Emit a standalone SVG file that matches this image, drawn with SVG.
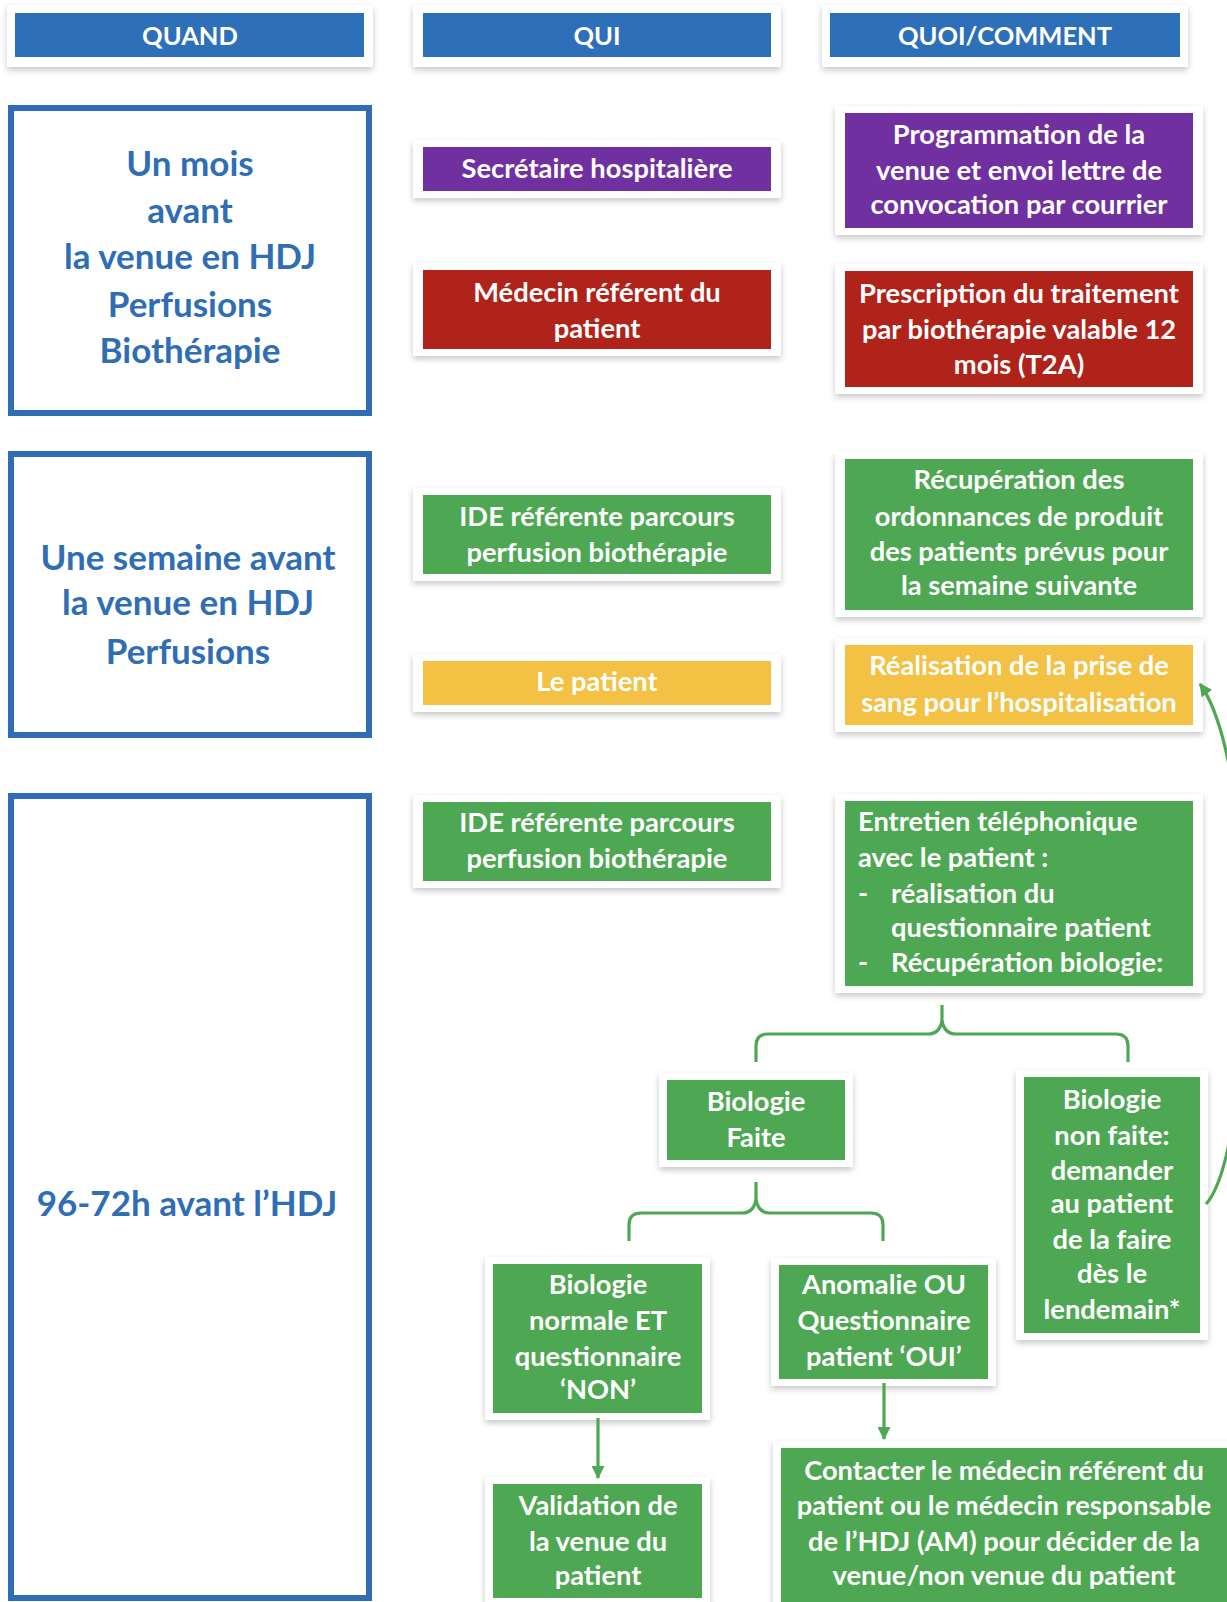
<svg xmlns="http://www.w3.org/2000/svg" width="1227" height="1602" viewBox="0 0 1227 1602">
<defs>
<filter id="sh" x="-10%" y="-20%" width="120%" height="150%">
<feDropShadow dx="0" dy="3" stdDeviation="3" flood-color="#000" flood-opacity="0.22"/>
</filter>
<marker id="ah" viewBox="0 0 12 12" refX="11" refY="6" markerWidth="13" markerHeight="13" markerUnits="userSpaceOnUse" orient="auto">
<path d="M0,0 L12,6 L0,12 Z" fill="#4ea752"/>
</marker>
</defs>
<style>
text{font-family:Lato,"Liberation Sans",sans-serif;font-weight:bold;dominant-baseline:central;text-anchor:middle;fill:#ffffff;transform:translateY(-1.5px)}
.card{fill:#ffffff;filter:url(#sh)}
.hd{fill:#2e6fba}
.h{font-size:25.5px}
.t{font-size:27.3px}
.lt{font-size:35px;fill:#2f6eb5}
.lb{fill:none;stroke:#2f6eb5;stroke-width:6}
.pu{fill:#7030a0}
.rd{fill:#b0231a}
.gr{fill:#4ea752}
.ye{fill:#f3c143}
.cn{fill:none;stroke:#4ea752;stroke-width:3.2}
.lf{text-anchor:start}
</style>
<rect width="1227" height="1602" fill="#ffffff"/>

<g id="head-quand"><rect class="card" x="7" y="5" width="366" height="62"/><rect class="hd" x="15" y="13" width="349" height="44"/><text class="h" x="190" y="36">QUAND</text></g>
<g id="head-qui"><rect class="card" x="413" y="5" width="368" height="62"/><rect class="hd" x="423" y="13" width="348" height="44"/><text class="h" x="597" y="36">QUI</text></g>
<g id="head-quoi"><rect class="card" x="822" y="5" width="366" height="62"/><rect class="hd" x="830" y="13" width="350" height="44"/><text class="h" x="1005" y="36">QUOI/COMMENT</text></g>

<g id="when-1"><rect class="lb" x="11" y="108" width="358" height="305"/>
<text class="lt" x="190" y="163">Un mois</text><text class="lt" x="190" y="210">avant</text><text class="lt" x="190" y="256">la venue en HDJ</text><text class="lt" x="190" y="304">Perfusions</text><text class="lt" x="190" y="350">Biothérapie</text></g>
<g id="when-2"><rect class="lb" x="11" y="454" width="358" height="281"/>
<text class="lt" x="188" y="557">Une semaine avant</text><text class="lt" x="188" y="602">la venue en HDJ</text><text class="lt" x="188" y="651">Perfusions</text></g>
<g id="when-3"><rect class="lb" x="11" y="796" width="358" height="802"/>
<text class="lt" x="187" y="1203">96-72h avant l’HDJ</text></g>

<g id="who-secretaire"><rect class="card" x="413" y="140" width="368" height="58"/><rect class="pu" x="423" y="147" width="348" height="44"/><text class="t" x="597" y="169">Secrétaire hospitalière</text></g>
<g id="who-medecin"><rect class="card" x="413" y="263" width="368" height="93"/><rect class="rd" x="423" y="270" width="348" height="79"/><text class="t" x="597" y="293">Médecin référent du</text><text class="t" x="597" y="329">patient</text></g>
<g id="who-ide1"><rect class="card" x="413" y="488" width="368" height="93"/><rect class="gr" x="423" y="495" width="348" height="79"/><text class="t" x="597" y="517">IDE référente parcours</text><text class="t" x="597" y="553">perfusion biothérapie</text></g>
<g id="who-patient"><rect class="card" x="413" y="654" width="368" height="58"/><rect class="ye" x="423" y="661" width="348" height="44"/><text class="t" x="597" y="682">Le patient</text></g>
<g id="who-ide2"><rect class="card" x="413" y="795" width="368" height="93"/><rect class="gr" x="423" y="802" width="348" height="79"/><text class="t" x="597" y="823">IDE référente parcours</text><text class="t" x="597" y="859">perfusion biothérapie</text></g>

<g id="what-programmation"><rect class="card" x="835" y="106" width="368" height="129"/><rect class="pu" x="845" y="113" width="348" height="115"/><text class="t" x="1019" y="135">Programmation de la</text><text class="t" x="1019" y="171">venue et envoi lettre de</text><text class="t" x="1019" y="205">convocation par courrier</text></g>
<g id="what-prescription"><rect class="card" x="835" y="264" width="368" height="130"/><rect class="rd" x="845" y="271" width="348" height="116"/><text class="t" x="1019" y="294">Prescription du traitement</text><text class="t" x="1019" y="330">par biothérapie valable 12</text><text class="t" x="1019" y="365">mois (T2A)</text></g>
<g id="what-recuperation"><rect class="card" x="835" y="452" width="368" height="165"/><rect class="gr" x="845" y="459" width="348" height="151"/><text class="t" x="1019" y="480">Récupération des</text><text class="t" x="1019" y="517">ordonnances de produit</text><text class="t" x="1019" y="552">des patients prévus pour</text><text class="t" x="1019" y="586">la semaine suivante</text></g>
<g id="what-realisation"><rect class="card" x="835" y="638" width="368" height="94"/><rect class="ye" x="845" y="645" width="348" height="80"/><text class="t" x="1019" y="666">Réalisation de la prise de</text><text class="t" x="1019" y="703">sang pour l’hospitalisation</text></g>
<g id="what-entretien"><rect class="card" x="835" y="794" width="368" height="199"/><rect class="gr" x="845" y="801" width="348" height="185"/>
<text class="t lf" x="858" y="822">Entretien téléphonique</text><text class="t lf" x="858" y="858">avec le patient :</text>
<text class="t lf" x="858" y="894">-</text><text class="t lf" x="891" y="894">réalisation du</text>
<text class="t lf" x="891" y="928">questionnaire patient</text>
<text class="t lf" x="858" y="963">-</text><text class="t lf" x="891" y="963">Récupération biologie:</text></g>

<g id="bio-faite"><rect class="card" x="659" y="1073" width="194" height="94"/><rect class="gr" x="667" y="1080" width="178" height="80"/><text class="t" x="756" y="1102">Biologie</text><text class="t" x="756" y="1138">Faite</text></g>
<g id="bio-non-faite"><rect class="card" x="1016" y="1070" width="192" height="270"/><rect class="gr" x="1024" y="1077" width="176" height="256"/>
<text class="t" x="1112" y="1100">Biologie</text><text class="t" x="1112" y="1136">non faite:</text><text class="t" x="1112" y="1171">demander</text><text class="t" x="1112" y="1204">au patient</text><text class="t" x="1112" y="1240">de la faire</text><text class="t" x="1112" y="1274">dès le</text><text class="t" x="1112" y="1310">lendemain*</text></g>
<g id="bio-normale"><rect class="card" x="485" y="1257" width="225" height="163"/><rect class="gr" x="493" y="1264" width="209" height="149"/>
<text class="t" x="598" y="1285">Biologie</text><text class="t" x="598" y="1321">normale ET</text><text class="t" x="598" y="1357">questionnaire</text><text class="t" x="598" y="1390">‘NON’</text></g>
<g id="anomalie"><rect class="card" x="771" y="1258" width="225" height="128"/><rect class="gr" x="779" y="1265" width="209" height="114"/>
<text class="t" x="884" y="1285">Anomalie OU</text><text class="t" x="884" y="1321">Questionnaire</text><text class="t" x="884" y="1357">patient ‘OUI’</text></g>
<g id="validation"><rect class="card" x="485" y="1477" width="225" height="128"/><rect class="gr" x="493" y="1484" width="209" height="114"/>
<text class="t" x="598" y="1506">Validation de</text><text class="t" x="598" y="1542">la venue du</text><text class="t" x="598" y="1576">patient</text></g>
<g id="contacter"><rect class="card" x="773" y="1441" width="470" height="170"/><rect class="gr" x="781" y="1448" width="446" height="154"/>
<text class="t" x="1004" y="1471">Contacter le médecin référent du</text><text class="t" x="1004" y="1506">patient ou le médecin responsable</text><text class="t" x="1004" y="1542">de l’HDJ (AM) pour décider de la</text><text class="t" x="1004" y="1576">venue/non venue du patient</text></g>

<g id="connectors">
<path class="cn" d="M756,1062 V1046 Q756,1034 768,1034 H928 Q940,1034 942,1020 V1005 M942,1020 Q944,1034 956,1034 H1116 Q1128,1034 1128,1046 V1062"/>
<path class="cn" d="M629,1241 V1225 Q629,1213 641,1213 H742 Q754,1213 756,1199 V1182 M756,1199 Q758,1213 770,1213 H871 Q883,1213 883,1225 V1241"/>
<path class="cn" d="M598,1418 V1478" marker-end="url(#ah)"/>
<path class="cn" d="M884,1383 V1439" marker-end="url(#ah)"/>
<path class="cn" d="M1206,1204 C1255,1150 1262,770 1200,684" marker-end="url(#ah)"/>
</g>
</svg>
